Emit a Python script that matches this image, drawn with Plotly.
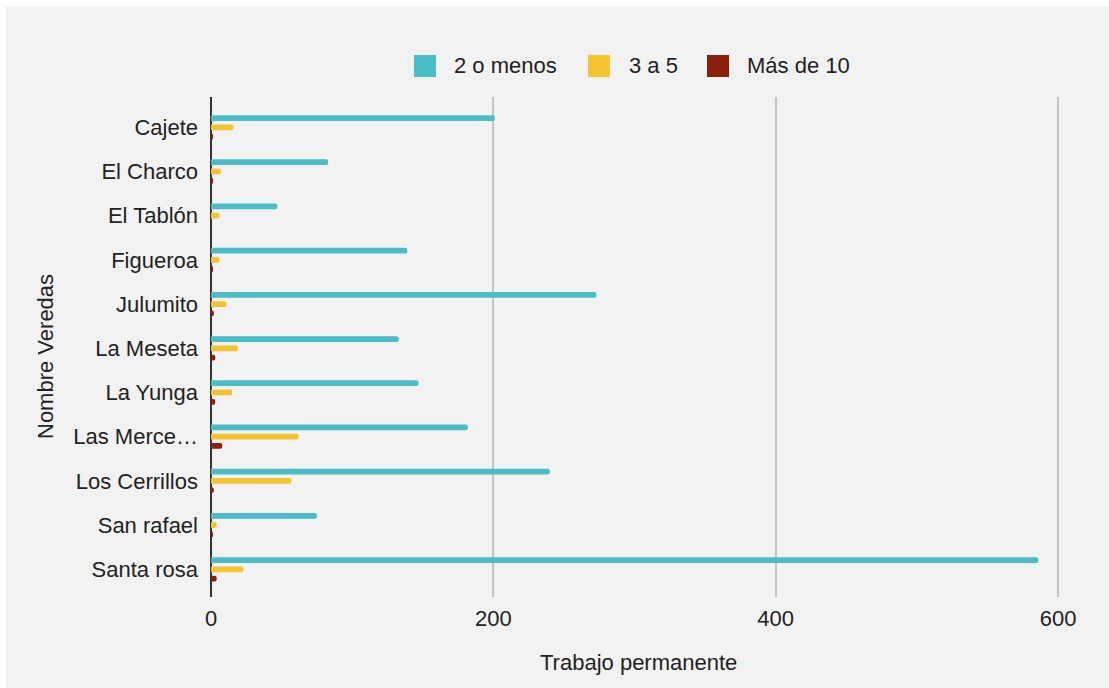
import plotly.graph_objects as go

# Veredas (categories, top to bottom)
veredas = ["Cajete", "El Charco", "El Tablón", "Figueroa", "Julumito", "La Meseta",
           "La Yunga", "Las Merce…", "Los Cerrillos", "San rafael", "Santa rosa"]

# Trabajo permanente por tamaño
dos_o_menos = [201, 83, 47, 139, 273, 133, 147, 182, 240, 75, 586]
tres_a_cinco = [16, 7, 6, 6, 11, 19, 15, 62, 57, 4, 23]
mas_de_diez = [1, 1, 0, 1, 2, 3, 3, 8, 2, 1, 4]

series_names = ["2 o menos", "3 a 5", "Más de 10"]
series_colors = ["#4abdc7", "#f4c430", "#8a1f0c"]
x_ticks = [0, 200, 400, 600]

FONT = "Liberation Sans, Arial, sans-serif"
TXT = "#222222"

# plot area in pixels
W, H = 1109, 688
L, R, T, B = 211, 1062, 97, 597


def px(x):
    return (x - L) / (R - L)


def py(y):
    return (B - y) / (B - T)


fig = go.Figure()
for name, vals, col in zip(series_names, [dos_o_menos, tres_a_cinco, mas_de_diez], series_colors):
    fig.add_trace(go.Bar(
        y=list(range(len(veredas))), x=vals, name=name, orientation="h",
        marker=dict(color=col, line=dict(width=0), cornerradius=3),
        showlegend=False, hoverinfo="x+name",
    ))

shapes = [
    # outer white frame strips (top and left)
    dict(type="rect", xref="paper", yref="paper", x0=px(0), x1=px(W), y0=py(0), y1=py(6),
         fillcolor="white", line=dict(width=0), layer="below"),
    dict(type="rect", xref="paper", yref="paper", x0=px(0), x1=px(6), y0=py(H), y1=py(0),
         fillcolor="white", line=dict(width=0), layer="below"),
]
annotations = []

# legend: coloured squares with labels
legend_items = [(414, 452), (588, 627), (707, 745)]
for (sq_x, tx_x), name, col in zip(legend_items, series_names, series_colors):
    shapes.append(dict(type="rect", xref="paper", yref="paper",
                       x0=px(sq_x), x1=px(sq_x + 22), y0=py(77), y1=py(55),
                       fillcolor=col, line=dict(width=0)))
    annotations.append(dict(text=name, xref="paper", yref="paper", x=px(tx_x), y=py(66),
                            xanchor="left", yanchor="middle", showarrow=False,
                            font=dict(family=FONT, size=22, color=TXT)))

# axis titles
annotations.append(dict(text="Trabajo permanente", xref="paper", yref="paper",
                        x=px(638), y=py(662), xanchor="center", yanchor="middle",
                        showarrow=False, font=dict(family=FONT, size=22, color=TXT)))
annotations.append(dict(text="Nombre Veredas", xref="paper", yref="paper",
                        x=px(45), y=py(357), xanchor="center", yanchor="middle",
                        textangle=-90, showarrow=False,
                        font=dict(family=FONT, size=22, color=TXT)))

fig.update_layout(
    width=W, height=H,
    margin=dict(l=L, r=W - R, t=T, b=H - B, pad=0),
    paper_bgcolor="#f2f2f2", plot_bgcolor="#f2f2f2",
    barmode="group", bargap=0.37, bargroupgap=0.38,
    font=dict(family=FONT, size=22, color=TXT),
    shapes=shapes, annotations=annotations,
    xaxis=dict(range=[0, 602.8], tickvals=x_ticks, ticktext=[str(v) for v in x_ticks],
               showgrid=True, gridcolor="#c4c4c4", gridwidth=1.6,
               zeroline=True, zerolinecolor="#333333", zerolinewidth=2,
               showline=False, ticks="", ticklabelstandoff=6,
               tickfont=dict(family=FONT, size=22, color=TXT)),
    yaxis=dict(range=[10.627, -0.6855], tickvals=list(range(len(veredas))), ticktext=veredas,
               showgrid=False, zeroline=False, showline=False, ticks="",
               ticklabelstandoff=12,
               tickfont=dict(family=FONT, size=22, color=TXT)),
)

fig.write_html("out.html")
